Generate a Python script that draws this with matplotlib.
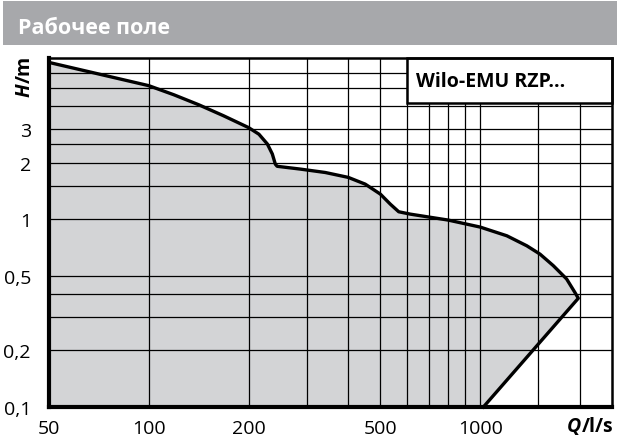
import numpy as np
import matplotlib
matplotlib.use("Agg")
import matplotlib.pyplot as plt
from matplotlib.patches import Rectangle

plt.rcParams['font.family'] = ['Open Sans', 'DejaVu Sans']

# upper boundary of the operating field (Q in l/s, H in m)
q_top = [50, 100, 119, 141.5, 168, 200, 215, 228, 236, 241, 244, 287, 341,
         400, 450, 500, 536, 568, 615, 801, 1000, 1204, 1383, 1516, 1663,
         1824, 1932, 1978]
h_top = [6.82, 5.13, 4.59, 4.06, 3.55, 3.07, 2.83, 2.51, 2.22, 1.96, 1.91,
         1.845, 1.77, 1.667, 1.535, 1.358, 1.20, 1.094, 1.063, 0.988, 0.907,
         0.815, 0.721, 0.651, 0.565, 0.48, 0.407, 0.379]
# lower right boundary
q_low = [1978, 1023]
h_low = [0.379, 0.1]

x_major = [50, 100, 200, 500, 1000]
x_labels = ['50', '100', '200', '500', '1000']
x_minor = [300, 400, 600, 700, 800, 900, 1500, 2000]
y_major = [0.1, 0.2, 0.5, 1, 2, 3]
y_labels = ['0,1', '0,2', '0,5', '1', '2', '3']
y_minor = [0.3, 0.4, 1.5, 2.5, 4, 5, 6]

title = 'Рабочее поле'
series_name = 'Wilo-EMU RZP...'

W, H = 617, 439
fig = plt.figure(figsize=(W / 100, H / 100), dpi=100)

# header band
fig.patches.append(Rectangle((3 / W, 1 - 46 / H), 1 - 3 / W, 44 / H,
                             transform=fig.transFigure, facecolor='#a7a8ab',
                             edgecolor='none'))
fig.text(18 / W, 1 - 28 / H, title, color='white', fontsize=15.5,
         fontweight='bold', va='center', ha='left')

ax = fig.add_axes([49 / W, 1 - 408 / H, (612 - 49) / W, (408 - 59) / H])
ax.set_xscale('log')
ax.set_yscale('log')
ax.set_xlim(50, 2500)
ax.set_ylim(0.1, 7.2)

ax.set_xticks(x_major)
ax.set_xticklabels(x_labels)
ax.set_xticks(x_minor, minor=True)
ax.set_yticks(y_major)
ax.set_yticklabels(y_labels)
ax.set_yticks(y_minor, minor=True)
ax.xaxis.set_minor_formatter(matplotlib.ticker.NullFormatter())
ax.yaxis.set_minor_formatter(matplotlib.ticker.NullFormatter())
ax.tick_params(which='both', length=0, labelsize=14, colors='black')
ax.tick_params(axis='x', pad=9)
ax.tick_params(axis='y', pad=13)
ax.grid(which='both', color='black', linewidth=0.9, zorder=2)
ax.set_axisbelow(False)

# operating field
q_poly = q_top + q_low + [50]
h_poly = h_top + h_low + [0.1]
ax.fill(q_poly, h_poly, color='#d3d4d6', zorder=1, linewidth=0)
ax.plot(q_top + q_low[1:], h_top + h_low[1:], color='black', linewidth=2.4,
        zorder=4, solid_joinstyle='round', clip_on=False)

for s in ['left', 'bottom']:
    ax.spines[s].set_linewidth(3)
for s in ['top', 'right']:
    ax.spines[s].set_linewidth(1.8)
for s in ax.spines.values():
    s.set_zorder(6)

# name box
ax.add_patch(Rectangle((0.636, 0.871), 0.364, 0.129, transform=ax.transAxes,
                       facecolor='white', edgecolor='black', linewidth=1.8,
                       zorder=5, clip_on=False))
ax.text(0.652, 0.935, series_name, transform=ax.transAxes, fontsize=14,
        fontweight='bold', va='center', ha='left', zorder=7)

# axis titles
tq = fig.text(613 / W, 1 - 427 / H, '/l/s', fontsize=14, fontweight='bold',
              ha='right', va='center')
ax.annotate('Q', xy=(0, 0.5), xycoords=tq, fontsize=14, fontweight='bold',
            fontstyle='italic', ha='right', va='center')
th = fig.text(25 / W, 1 - 97 / H, 'H', fontsize=14, fontweight='bold',
              fontstyle='italic', rotation=90, ha='center', va='bottom')
ax.annotate('/m', xy=(0.5, 1), xycoords=th, fontsize=14, fontweight='bold',
            rotation=90, ha='center', va='bottom')

fig.savefig('out.png', dpi=100)
